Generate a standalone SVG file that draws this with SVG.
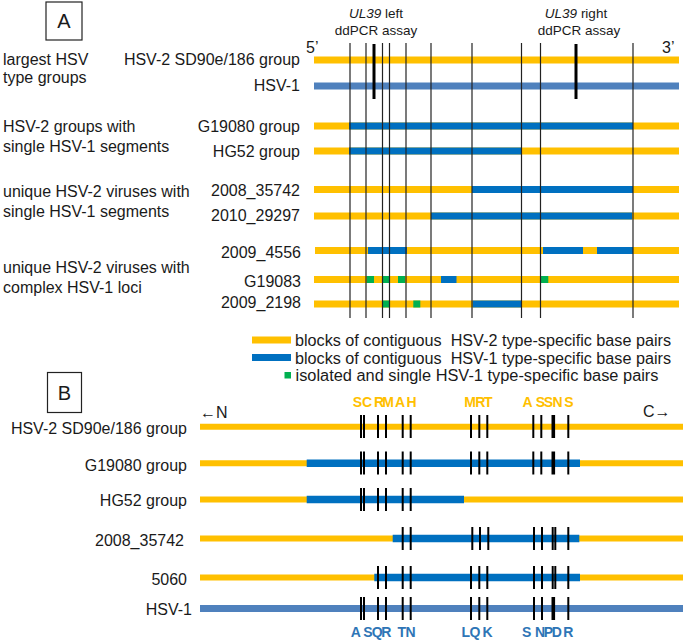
<svg xmlns="http://www.w3.org/2000/svg" width="685" height="640" viewBox="0 0 685 640">
<style>
text{font-family:"Liberation Sans",Arial,sans-serif;font-size:16px;fill:#1a1a1a}
.e{text-anchor:end}
.m{text-anchor:middle}
.sm{font-size:13.5px}
.ya{stroke:#FFC000;stroke-width:7;fill:none}
.ba{stroke:#0070C0;stroke-width:7;fill:none}
.ha{stroke:#4F81BD;stroke-width:7;fill:none}
.ga{stroke:#00B050;stroke-width:7;fill:none}
.yb{stroke:#FFC000;stroke-width:6;fill:none}
.bb{stroke:#0070C0;stroke-width:7.5;fill:none}
.hb{stroke:#4F81BD;stroke-width:7;fill:none}
.vl{stroke:#222;stroke-width:1.2}
.tk{stroke:#000;stroke-width:2}
.tt{stroke:#000;stroke-width:3.6}
.box{fill:none;stroke:#222;stroke-width:1.2}
.ol{fill:#FFC000;font-size:14px;font-weight:bold;text-anchor:middle}
.bl{fill:#2E75B6;font-size:14px;font-weight:bold;text-anchor:middle}
</style>

<!-- Panel A -->
<g id="panelA-label">
<rect class="box" x="46" y="2" width="36" height="38"/>
<text class="m" x="64" y="28" style="font-size:20px">A</text>
</g>
<g id="categories-A">
<text x="3" y="65">largest HSV</text>
<text x="3" y="83">type groups</text>
<text x="3" y="132">HSV-2 groups with</text>
<text x="3" y="152">single HSV-1 segments</text>
<text x="3" y="197">unique HSV-2 viruses with</text>
<text x="3" y="217">single HSV-1 segments</text>
<text x="3" y="273">unique HSV-2 viruses with</text>
<text x="3" y="293">complex HSV-1 loci</text>
</g>
<g id="assay-labels">
<text class="m sm" x="376" y="18"><tspan font-style="italic">UL39</tspan> left</text>
<text class="m sm" x="376" y="35">ddPCR assay</text>
<text class="m sm" x="576" y="18"><tspan font-style="italic">UL39</tspan> right</text>
<text class="m sm" x="579" y="35">ddPCR assay</text>
<text x="306" y="53">5’</text>
<text x="662" y="53">3’</text>
</g>

<g id="A-SD90e">
<text class="e" x="300" y="65">HSV-2 SD90e/186 group</text>
<line class="ya" x1="314" y1="60" x2="679" y2="60"/>
</g>
<g id="A-HSV1">
<text class="e" x="300" y="91">HSV-1</text>
<line class="ha" x1="314" y1="86" x2="679" y2="86"/>
</g>
<g id="A-G19080">
<text class="e" x="300" y="132">G19080 group</text>
<line class="ya" x1="314" y1="126" x2="679" y2="126"/>
<line class="ba" x1="349" y1="126" x2="633" y2="126"/>
</g>
<g id="A-HG52">
<text class="e" x="300" y="157">HG52 group</text>
<line class="ya" x1="314" y1="151" x2="679" y2="151"/>
<line class="ba" x1="349" y1="151" x2="521" y2="151"/>
</g>
<g id="A-2008_35742">
<text class="e" x="300" y="196">2008_35742</text>
<line class="ya" x1="314" y1="189.5" x2="679" y2="189.5"/>
<line class="ba" x1="472" y1="189.5" x2="633" y2="189.5"/>
</g>
<g id="A-2010_29297">
<text class="e" x="300" y="221">2010_29297</text>
<line class="ya" x1="314" y1="216" x2="679" y2="216"/>
<line class="ba" x1="431" y1="216" x2="632" y2="216"/>
</g>
<g id="A-2009_4556">
<text class="e" x="301" y="258">2009_4556</text>
<line class="ya" x1="315" y1="250.5" x2="679" y2="250.5"/>
<line class="ba" x1="368" y1="250.5" x2="407" y2="250.5"/>
<line class="ba" x1="543" y1="250.5" x2="583" y2="250.5"/>
<line class="ba" x1="597" y1="250.5" x2="633" y2="250.5"/>
</g>
<g id="A-G19083">
<text class="e" x="301" y="287">G19083</text>
<line class="ya" x1="314" y1="279.5" x2="679" y2="279.5"/>
<line class="ga" x1="366.7" y1="279.5" x2="374" y2="279.5"/>
<line class="ga" x1="382.3" y1="279.5" x2="390" y2="279.5"/>
<line class="ga" x1="398" y1="279.5" x2="405" y2="279.5"/>
<line class="ba" x1="441" y1="279.5" x2="456.5" y2="279.5"/>
<line class="ga" x1="540.3" y1="279.5" x2="548.3" y2="279.5"/>
</g>
<g id="A-2009_2198">
<text class="e" x="301" y="308">2009_2198</text>
<line class="ya" x1="314" y1="304" x2="679" y2="304"/>
<line class="ga" x1="382.3" y1="304" x2="390" y2="304"/>
<line class="ga" x1="413.3" y1="304" x2="420.3" y2="304"/>
<line class="ba" x1="472.7" y1="304" x2="521" y2="304"/>
</g>

<g id="connectors">
<g id="A-markers">
<line class="vl" x1="350" y1="43" x2="350" y2="318"/>
<line class="vl" x1="366" y1="43" x2="366" y2="318"/>
<line class="vl" x1="382.5" y1="43" x2="382.5" y2="318"/>
<line class="vl" x1="389.5" y1="43" x2="389.5" y2="318"/>
<line class="vl" x1="406" y1="43" x2="406" y2="318"/>
<line class="vl" x1="431" y1="43" x2="431" y2="318"/>
<line class="vl" x1="472" y1="43" x2="472" y2="318"/>
<line class="vl" x1="521.5" y1="43" x2="521.5" y2="318"/>
<line class="vl" x1="540.5" y1="43" x2="540.5" y2="318"/>
<line class="vl" x1="633" y1="43" x2="633" y2="318"/>
<line class="tt" x1="374" y1="44" x2="374" y2="99" style="stroke-width:3"/>
<line class="tt" x1="576" y1="44" x2="576" y2="99" style="stroke-width:3"/>
</g>
</g>

<g id="legend">
<line class="ya" x1="252" y1="340" x2="291" y2="340"/>
<line class="ba" x1="252" y1="357.5" x2="291" y2="357.5"/>
<rect x="284.5" y="372" width="6.5" height="6.5" fill="#00B050"/>
<text x="295" y="345.5" textLength="376" lengthAdjust="spacingAndGlyphs" xml:space="preserve">blocks of contiguous  HSV-2 type-specific base pairs</text>
<text x="295" y="363.5" textLength="376" lengthAdjust="spacingAndGlyphs" xml:space="preserve">blocks of contiguous  HSV-1 type-specific base pairs</text>
<text x="295.5" y="381" textLength="363" lengthAdjust="spacingAndGlyphs">isolated and single HSV-1 type-specific base pairs</text>
</g>

<!-- Panel B -->
<g id="panelB-label">
<rect class="box" x="47.5" y="372.5" width="34" height="40"/>
<text class="m" x="64.5" y="399.5" style="font-size:20px">B</text>
</g>
<g id="B-ends">
<text x="200" y="418">←N</text>
<text x="643" y="417">C→</text>
</g>
<g id="B-top-labels">
<text class="ol" x="357.5 367 379 388 400 411.5" y="406.7">SCRMAH</text>
<text class="ol" x="470 480.3 488.3" y="406.7">MRT</text>
<text class="ol" x="527.5 540.3 548.3 557.5 569" y="406.7">ASSNS</text>
</g>
<g id="B-bottom-labels">
<text class="bl" x="355.8 367.8 377.2 386.3 401.7 410.5" y="636.5">ASQRTN</text>
<text class="bl" x="465.8 475 487.5" y="636.5">LQK</text>
<text class="bl" x="526.7 540 548.3 556.7 568.3" y="636.5">SNPDR</text>
</g>

<g id="B-SD90e">
<text class="e" x="187" y="434">HSV-2 SD90e/186 group</text>
<line class="yb" x1="200" y1="426.7" x2="683" y2="426.7"/>
<g class="tk">
<line x1="361" y1="415" x2="361" y2="438"/><line x1="364" y1="415" x2="364" y2="438"/>
<line x1="378" y1="415" x2="378" y2="438"/><line x1="386" y1="415" x2="386" y2="438"/>
<line x1="402.7" y1="415" x2="402.7" y2="438"/><line x1="410.7" y1="415" x2="410.7" y2="438"/>
<line x1="471" y1="415" x2="471" y2="438"/><line x1="479.3" y1="415" x2="479.3" y2="438"/><line x1="487.3" y1="415" x2="487.3" y2="438"/>
<line x1="533.3" y1="415" x2="533.3" y2="438"/><line x1="541.3" y1="415" x2="541.3" y2="438"/>
<line x1="553.3" y1="415" x2="553.3" y2="438" style="stroke-width:3.6"/>
<line x1="568.3" y1="415" x2="568.3" y2="438"/>
</g>
</g>
<g id="B-G19080">
<text class="e" x="187" y="471">G19080 group</text>
<line class="yb" x1="200" y1="463.3" x2="683" y2="463.3"/>
<line class="bb" x1="306.7" y1="463.3" x2="580" y2="463.3"/>
<g class="tk">
<line x1="361" y1="451.5" x2="361" y2="474.5"/><line x1="364" y1="451.5" x2="364" y2="474.5"/>
<line x1="378" y1="451.5" x2="378" y2="474.5"/><line x1="386" y1="451.5" x2="386" y2="474.5"/>
<line x1="402.7" y1="451.5" x2="402.7" y2="474.5"/><line x1="410.7" y1="451.5" x2="410.7" y2="474.5"/>
<line x1="471" y1="451.5" x2="471" y2="474.5"/><line x1="479.3" y1="451.5" x2="479.3" y2="474.5"/><line x1="487.3" y1="451.5" x2="487.3" y2="474.5"/>
<line x1="533.3" y1="451.5" x2="533.3" y2="474.5"/><line x1="541.3" y1="451.5" x2="541.3" y2="474.5"/>
<line x1="553.3" y1="451.5" x2="553.3" y2="474.5" style="stroke-width:3.6"/>
<line x1="568.3" y1="451.5" x2="568.3" y2="474.5"/>
</g>
</g>
<g id="B-HG52">
<text class="e" x="187" y="506">HG52 group</text>
<line class="yb" x1="200" y1="499.5" x2="683" y2="499.5"/>
<line class="bb" x1="306.7" y1="499.5" x2="464" y2="499.5"/>
<g class="tk">
<line x1="361" y1="488" x2="361" y2="511"/><line x1="364" y1="488" x2="364" y2="511"/>
<line x1="378" y1="488" x2="378" y2="511"/><line x1="386" y1="488" x2="386" y2="511"/>
<line x1="402.7" y1="488" x2="402.7" y2="511"/><line x1="410.7" y1="488" x2="410.7" y2="511"/>
</g>
</g>
<g id="B-2008_35742">
<text class="e" x="184" y="546">2008_35742</text>
<line class="yb" x1="200" y1="538.5" x2="683" y2="538.5"/>
<line class="bb" x1="392.7" y1="538.5" x2="579.3" y2="538.5"/>
<g class="tk">
<line x1="402.7" y1="527" x2="402.7" y2="550"/><line x1="410.7" y1="527" x2="410.7" y2="550"/>
<line x1="472.3" y1="527" x2="472.3" y2="550"/><line x1="480" y1="527" x2="480" y2="550"/><line x1="488.3" y1="527" x2="488.3" y2="550"/>
<line x1="534" y1="527" x2="534" y2="550"/><line x1="542" y1="527" x2="542" y2="550"/>
<line x1="552.7" y1="527" x2="552.7" y2="550"/><line x1="555.3" y1="527" x2="555.3" y2="550"/>
<line x1="568.3" y1="527" x2="568.3" y2="550"/>
</g>
</g>
<g id="B-5060">
<text class="e" x="187" y="584.5">5060</text>
<line class="yb" x1="200" y1="577.5" x2="683" y2="577.5"/>
<line class="bb" x1="374.3" y1="577.5" x2="580" y2="577.5"/>
<g class="tk">
<line x1="378" y1="566" x2="378" y2="589"/><line x1="386" y1="566" x2="386" y2="589"/>
<line x1="402.7" y1="566" x2="402.7" y2="589"/><line x1="410.7" y1="566" x2="410.7" y2="589"/>
<line x1="471" y1="566" x2="471" y2="589"/><line x1="479.3" y1="566" x2="479.3" y2="589"/><line x1="487.3" y1="566" x2="487.3" y2="589"/>
<line x1="534" y1="566" x2="534" y2="589"/><line x1="542" y1="566" x2="542" y2="589"/>
<line x1="552.7" y1="566" x2="552.7" y2="589"/><line x1="555.3" y1="566" x2="555.3" y2="589"/>
<line x1="568.3" y1="566" x2="568.3" y2="589"/>
</g>
</g>
<g id="B-HSV1">
<text class="e" x="192" y="615">HSV-1</text>
<line class="hb" x1="200" y1="608.5" x2="683" y2="608.5"/>
<g class="tk">
<line x1="361" y1="597" x2="361" y2="620"/><line x1="364" y1="597" x2="364" y2="620"/>
<line x1="378" y1="597" x2="378" y2="620"/><line x1="386" y1="597" x2="386" y2="620"/>
<line x1="402.7" y1="597" x2="402.7" y2="620"/><line x1="410.7" y1="597" x2="410.7" y2="620"/>
<line x1="471" y1="597" x2="471" y2="620"/><line x1="479.3" y1="597" x2="479.3" y2="620"/><line x1="487.3" y1="597" x2="487.3" y2="620"/>
<line x1="534" y1="597" x2="534" y2="620"/><line x1="542" y1="597" x2="542" y2="620"/>
<line x1="553.3" y1="597" x2="553.3" y2="620" style="stroke-width:3.6"/>
<line x1="568.3" y1="597" x2="568.3" y2="620"/>
</g>
</g>
</svg>
